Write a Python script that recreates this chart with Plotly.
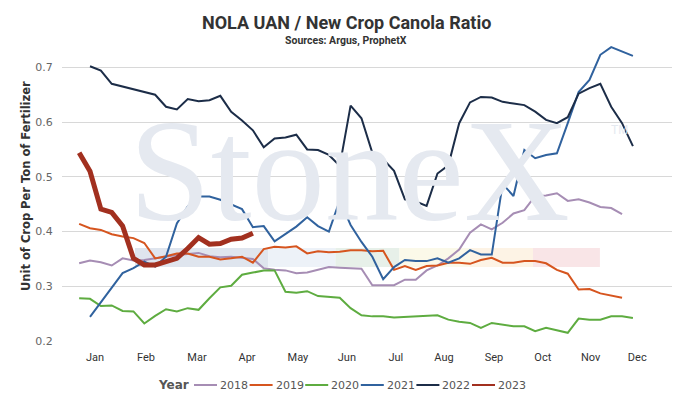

# %% ---- Requirements and constants
import plotly.graph_objects as go

# week-of-year values
weeks_a = list(range(1, 52))   # 2018, 2019
weeks_b = list(range(1, 53))   # 2020
weeks_c = list(range(2, 53))   # 2021, 2022
weeks_d = list(range(1, 18))   # 2023

y2018 = [0.342, 0.347, 0.344, 0.338, 0.351, 0.347, 0.348, 0.351, 0.355, 0.357,
         0.359, 0.361, 0.355, 0.353, 0.354, 0.352, 0.350, 0.333, 0.330, 0.329,
         0.324, 0.325, 0.330, 0.335, 0.334, 0.333, 0.332, 0.302, 0.302, 0.302,
         0.312, 0.312, 0.329, 0.338, 0.351, 0.367, 0.398, 0.413, 0.404, 0.416,
         0.433, 0.439, 0.465, 0.466, 0.470, 0.456, 0.459, 0.453, 0.445, 0.443,
         0.432]
y2019 = [0.414, 0.406, 0.403, 0.395, 0.391, 0.388, 0.379, 0.351, 0.355, 0.360,
         0.360, 0.354, 0.354, 0.349, 0.351, 0.354, 0.343, 0.368, 0.372, 0.371,
         0.373, 0.360, 0.364, 0.362, 0.363, 0.366, 0.366, 0.364, 0.365, 0.330,
         0.337, 0.330, 0.337, 0.338, 0.343, 0.343, 0.341, 0.348, 0.352, 0.343,
         0.343, 0.346, 0.346, 0.342, 0.330, 0.323, 0.294, 0.295, 0.287, 0.283,
         0.279]
y2020 = [0.278, 0.277, 0.264, 0.265, 0.255, 0.254, 0.232, 0.246, 0.258, 0.254,
         0.260, 0.257, 0.278, 0.298, 0.301, 0.321, 0.325, 0.329, 0.329, 0.290,
         0.288, 0.291, 0.282, 0.280, 0.279, 0.260, 0.247, 0.245, 0.245, 0.243,
         0.244, 0.244, 0.245, 0.247, 0.239, 0.235, 0.233, 0.224, 0.233, 0.230,
         0.227, 0.227, 0.218, 0.224, 0.220, 0.215, 0.241, 0.239, 0.239, 0.245,
         0.245, 0.242]
y2021 = [0.244, 0.271, 0.297, 0.324, 0.333, 0.345, 0.336, 0.354, 0.415,
         0.446, 0.464, 0.464, 0.458, 0.450, 0.441, 0.408, 0.410, 0.382, 0.395,
         0.409, 0.426, 0.410, 0.400, 0.457, 0.412, 0.381, 0.354, 0.313, 0.335,
         0.348, 0.346, 0.346, 0.351, 0.343, 0.351, 0.366, 0.358, 0.358, 0.487,
         0.465, 0.549, 0.534, 0.540, 0.543, 0.598, 0.655, 0.677, 0.723, 0.737,
         0.729, 0.721]
y2022 = [0.702, 0.694, 0.670, 0.665, 0.660, 0.654, 0.650, 0.628, 0.623,
         0.642, 0.638, 0.640, 0.648, 0.619, 0.603, 0.585, 0.554, 0.570, 0.572,
         0.577, 0.550, 0.549, 0.540, 0.520, 0.630, 0.607, 0.544, 0.532, 0.511,
         0.459, 0.455, 0.447, 0.506, 0.521, 0.598, 0.636, 0.646, 0.645, 0.637,
         0.634, 0.631, 0.619, 0.604, 0.598, 0.609, 0.652, 0.662, 0.670, 0.628,
         0.598, 0.556]
y2023 = [0.544, 0.510, 0.441, 0.435, 0.410, 0.351, 0.339, 0.339, 0.345, 0.351,
         0.369, 0.389, 0.377, 0.378, 0.386, 0.388, 0.397]

months = ['Jan', 'Feb', 'Mar', 'Apr', 'May', 'Jun',
          'Jul', 'Aug', 'Sep', 'Oct', 'Nov', 'Dec']
month_pos = [2.46, 7.16, 11.85, 16.46, 21.15, 25.66,
             30.17, 34.6, 39.2, 43.7, 48.1, 52.4]

series = [
    ('2018', weeks_a, y2018, '#a68db4', 2),
    ('2019', weeks_a, y2019, '#d6551f', 2),
    ('2020', weeks_b, y2020, '#5eac40', 2),
    ('2021', weeks_c, y2021, '#30629e', 2),
    ('2022', weeks_c, y2022, '#1c2d48', 2),
    ('2023', weeks_d, y2023, '#a2301f', 5),
]

# the page adds an 8px body margin, so the figure is laid out 8px up/left
L, R, T, B = 54, 28, 32, 82
PW, PH = 692 - L - R, 415 - T - B


def px_x(page_x):
    # page pixel -> paper x
    return (page_x - 8 - L) / PW


def px_y(page_y):
    # page pixel -> paper y
    return (415 - B - (page_y - 8)) / PH


# %% ---- Figure
fig = go.Figure()
for name, xs, ys, color, width in series:
    fig.add_trace(go.Scatter(x=xs, y=ys, name=name, mode='lines',
                             line=dict(color=color, width=width),
                             showlegend=False))

# faint logo watermark
bands = [(6.14, 18.4, '#dfe5ee'), (18.4, 24.6, '#edf2f8'),
         (24.6, 30.5, '#e7f0e9'), (30.5, 37.0, '#fbf9e9'),
         (37.0, 42.8, '#fdf3e5'), (42.8, 48.96, '#f9e5e7')]
for x0, x1, c in bands:
    fig.add_shape(type='rect', xref='x', yref='y', x0=x0, x1=x1,
                  y0=0.335, y1=0.37, fillcolor=c, line_width=0, layer='below')

fig.add_annotation(text='StoneX', xref='paper', yref='paper',
                   x=px_x(349), y=px_y(170),
                   xanchor='center', yanchor='middle', showarrow=False,
                   font=dict(family='Liberation Serif', size=147, color='#e5e9f0'))
fig.add_annotation(text='TM', xref='paper', yref='paper',
                   x=px_x(630), y=px_y(121), showarrow=False,
                   font=dict(family='Liberation Sans', size=12, color='#e5e9f0'))

# title and subtitle
fig.add_annotation(text='<b>NOLA UAN / New Crop Canola Ratio</b>',
                   xref='paper', yref='paper', x=px_x(346), y=px_y(22),
                   xanchor='center', yanchor='middle', showarrow=False,
                   font=dict(family='Roboto', size=18, color='#333333'))
fig.add_annotation(text='<b>Sources: Argus, ProphetX</b>',
                   xref='paper', yref='paper', x=px_x(346), y=px_y(40),
                   xanchor='center', yanchor='middle', showarrow=False,
                   font=dict(family='Roboto', size=10.5, color='#333333'))

# y-axis title
fig.add_annotation(text='<b>Unit of Crop Per Ton of Fertilizer</b>',
                   xref='paper', yref='paper', x=px_x(26), y=px_y(186),
                   xanchor='center', yanchor='middle', textangle=-90,
                   showarrow=False,
                   font=dict(family='DejaVu Sans', size=11.5, color='#333333'))

# legend row, drawn like the original
fig.add_annotation(text='<b>Year</b>', xref='paper', yref='paper',
                   x=px_x(191), y=px_y(385), xanchor='right', yanchor='middle',
                   showarrow=False,
                   font=dict(family='DejaVu Sans', size=12, color='#555555'))
for i, (name, _, _, color, _) in enumerate(series):
    left = 194 + 55.6 * i
    fig.add_shape(type='line', xref='paper', yref='paper',
                  x0=px_x(left), x1=px_x(left + 23),
                  y0=px_y(385), y1=px_y(385),
                  line=dict(color=color, width=2))
    fig.add_annotation(text=name, xref='paper', yref='paper',
                       x=px_x(left + 24), y=px_y(385),
                       xanchor='left', yanchor='middle', showarrow=False,
                       font=dict(family='DejaVu Sans', size=11, color='#555555'))

fig.update_layout(
    width=692, height=415,
    margin=dict(l=L, r=R, t=T, b=B, autoexpand=False),
    paper_bgcolor='white', plot_bgcolor='white',
    font=dict(family='Roboto, Liberation Sans', color='#333333'),
    showlegend=False,
    xaxis=dict(range=[-0.58, 55.6], tickvals=month_pos, ticktext=months,
               showgrid=False, zeroline=False, showline=False,
               ticks='outside', ticklen=6, tickcolor='rgba(0,0,0,0)',
               tickfont=dict(family='Roboto', size=11, color='#333333'),
               tickprefix='<b>', ticksuffix='</b>'),
    yaxis=dict(range=[0.2, 0.75], dtick=0.1, tick0=0.2,
               showgrid=True, gridcolor='#d8d8d8', gridwidth=1,
               zeroline=False, showline=False,
               ticks='outside', ticklen=6, tickcolor='rgba(0,0,0,0)',
               tickfont=dict(family='DejaVu Sans', size=11, color='#666666')),
)

fig.write_html('out.html')
